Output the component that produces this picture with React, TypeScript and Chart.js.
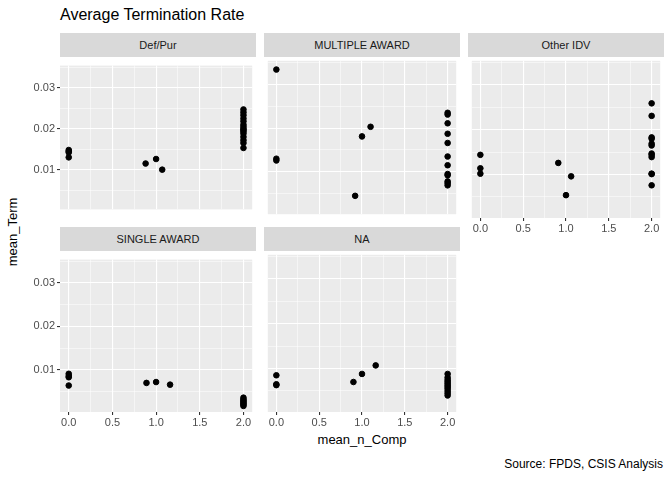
import { useEffect, useRef } from "react"
import { Chart, registerables } from "chart.js"

Chart.register(...registerables)

// facet panels
const panelNames = ["Def/Pur", "MULTIPLE AWARD", "Other IDV", "SINGLE AWARD", "NA"]

const defPurX = [0, 0, 0, 0, 0.88, 1.0, 1.07, 2, 2, 2, 2, 2, 2, 2, 2, 2, 2, 2, 2, 2, 2, 2]
const defPurY = [0.0148, 0.0145, 0.0142, 0.013, 0.0115, 0.0126, 0.01, 0.0247, 0.024, 0.0233, 0.0225, 0.0218, 0.021, 0.0205, 0.02, 0.0197, 0.0193, 0.0188, 0.018, 0.0172, 0.0165, 0.0153]

const multipleX = [0, 0, 0, 0.92, 1.0, 1.1, 2, 2, 2, 2, 2, 2, 2, 2, 2, 2, 2, 2]
const multipleY = [0.0334, 0.013, 0.0126, 0.0045, 0.0181, 0.0203, 0.0235, 0.0231, 0.0211, 0.0187, 0.0166, 0.0135, 0.0115, 0.0095, 0.0092, 0.0078, 0.0074, 0.0069]

const otherX = [0, 0, 0, 0.91, 1.06, 1.0, 2, 2, 2, 2, 2, 2, 2, 2, 2, 2, 2, 2]
const otherY = [0.0144, 0.0114, 0.0102, 0.0126, 0.0096, 0.0054, 0.0259, 0.0231, 0.0183, 0.018, 0.0169, 0.0165, 0.0147, 0.0144, 0.0139, 0.0102, 0.0101, 0.0076]

const singleX = [0, 0, 0, 0, 0.89, 1.0, 1.16, 2, 2, 2, 2, 2, 2, 2]
const singleY = [0.0091, 0.0086, 0.0083, 0.0064, 0.007, 0.0072, 0.0066, 0.0036, 0.0032, 0.0029, 0.0026, 0.0023, 0.002, 0.0017]

const naX = [0, 0, 0, 0.9, 1.0, 1.16, 2, 2, 2, 2, 2, 2, 2, 2, 2, 2, 2]
const naY = [0.0085, 0.0065, 0.0063, 0.007, 0.0088, 0.0107, 0.0088, 0.008, 0.0075, 0.0071, 0.0067, 0.0063, 0.0059, 0.0055, 0.005, 0.0045, 0.004]

const seriesX = [defPurX, multipleX, otherX, singleX, naX]
const seriesY = [defPurY, multipleY, otherY, singleY, naY]

const yTicks = [0.01, 0.02, 0.03]
const xTicks = [0, 0.5, 1, 1.5, 2]

const FONT = "'Liberation Sans', Arial, sans-serif"
const PLOT_W = 196
const PLOT_H = 161
const Y_AXIS_W = 32
const X_AXIS_H = 18

// panel layout: left, top of plot area, show y ticks, show x ticks
const layout = [
  { left: 60, top: 57, yAxis: true, xAxis: false },
  { left: 264, top: 57, yAxis: false, xAxis: false },
  { left: 468, top: 57, yAxis: false, xAxis: true },
  { left: 60, top: 251, yAxis: true, xAxis: true },
  { left: 264, top: 251, yAxis: false, xAxis: true },
]

const near = (v: number, list: number[]) => list.some((t) => Math.abs(t - v) < 1e-6)

function Panel({ index }: { index: number }) {
  const chartRef = useRef<HTMLCanvasElement>(null)
  const chartInstance = useRef<Chart | null>(null)
  const cfg = layout[index]

  useEffect(() => {
    if (!chartRef.current) return
    if (chartInstance.current) chartInstance.current.destroy()
    const ctx = chartRef.current.getContext("2d")
    if (!ctx) return
    const points = seriesX[index].map((x, i) => ({ x, y: seriesY[index][i] }))
    chartInstance.current = new Chart(ctx, {
      type: "scatter",
      data: {
        datasets: [
          {
            data: points,
            backgroundColor: "#000000",
            borderColor: "#000000",
            pointRadius: 2.8,
            pointHoverRadius: 2.8,
          },
        ],
      },
      options: {
        animation: false,
        responsive: false,
        maintainAspectRatio: false,
        layout: { padding: 0 },
        plugins: { legend: { display: false }, tooltip: { enabled: false } },
        scales: {
          x: {
            type: "linear",
            min: -0.1,
            max: 2.1,
            border: { display: false },
            afterBuildTicks: (scale: any) => {
              const t = []
              for (let v = 0; v <= 2.0001; v += 0.25) t.push({ value: v })
              scale.ticks = t
            },
            afterFit: (scale: any) => {
              scale.height = cfg.xAxis ? X_AXIS_H : 0
            },
            grid: {
              color: "#ffffff",
              lineWidth: (c: any) => (near(c.tick?.value, xTicks) ? 1.1 : 0.5),
              drawTicks: cfg.xAxis,
              tickLength: 3,
              tickColor: (c: any) => (near(c.tick?.value, xTicks) ? "#333333" : "rgba(0,0,0,0)"),
            },
            ticks: {
              display: cfg.xAxis,
              color: "#4d4d4d",
              font: { family: FONT, size: 11 },
              padding: 1,
              maxRotation: 0,
              autoSkip: false,
              callback: (v: any) => (near(Number(v), xTicks) ? Number(v).toFixed(1) : ""),
            },
          },
          y: {
            type: "linear",
            min: 0.0003,
            max: 0.0354,
            border: { display: false },
            afterBuildTicks: (scale: any) => {
              scale.ticks = [0.005, 0.01, 0.015, 0.02, 0.025, 0.03, 0.035].map((value) => ({ value }))
            },
            afterFit: (scale: any) => {
              scale.width = cfg.yAxis ? Y_AXIS_W : 0
            },
            grid: {
              color: "#ffffff",
              lineWidth: (c: any) => (near(c.tick?.value, yTicks) ? 1.1 : 0.5),
              drawTicks: cfg.yAxis,
              tickLength: 3,
              tickColor: (c: any) => (near(c.tick?.value, yTicks) ? "#333333" : "rgba(0,0,0,0)"),
            },
            ticks: {
              display: cfg.yAxis,
              color: "#4d4d4d",
              font: { family: FONT, size: 11 },
              padding: 2,
              autoSkip: false,
              callback: (v: any) => (near(Number(v), yTicks) ? Number(v).toFixed(2) : ""),
            },
          },
        },
      },
      plugins: [
        {
          id: "panelBg",
          beforeDraw: (chart: any) => {
            const { ctx: c, chartArea: a } = chart
            c.save()
            c.fillStyle = "#ebebeb"
            c.fillRect(a.left, a.top, a.right - a.left, a.bottom - a.top)
            c.restore()
          },
        },
      ],
    })
    return () => {
      if (chartInstance.current) chartInstance.current.destroy()
      chartInstance.current = null
    }
  }, [index])

  const w = PLOT_W + (cfg.yAxis ? Y_AXIS_W : 0)
  const h = PLOT_H + (cfg.xAxis ? X_AXIS_H : 0)
  return (
    <>
      <div
        style={{
          position: "absolute",
          left: cfg.left,
          top: cfg.top - 24,
          width: PLOT_W,
          height: 24,
          background: "#d9d9d9",
          color: "#1a1a1a",
          fontSize: 11,
          lineHeight: "24px",
          textAlign: "center",
          fontFamily: FONT,
        }}
      >
        {panelNames[index]}
      </div>
      <canvas
        ref={chartRef}
        width={w}
        height={h}
        style={{
          position: "absolute",
          left: cfg.left - (cfg.yAxis ? Y_AXIS_W : 0),
          top: cfg.top,
          width: w,
          height: h,
        }}
      />
    </>
  )
}

export default function App() {
  return (
    <div
      style={{
        position: "fixed",
        left: 0,
        top: 0,
        width: 672,
        height: 480,
        background: "#ffffff",
        fontFamily: FONT,
        fontWeight: "normal",
        overflow: "hidden",
      }}
    >
      <div style={{ position: "absolute", left: 60, top: 6, fontSize: 16, color: "#000" }}>
        Average Termination Rate
      </div>
      {panelNames.map((_, i) => (
        <Panel key={i} index={i} />
      ))}
      <div
        style={{
          position: "absolute",
          left: 12,
          top: 232,
          fontSize: 13,
          color: "#000",
          transform: "translate(-50%, -50%) rotate(-90deg)",
          whiteSpace: "nowrap",
        }}
      >
        mean_Term
      </div>
      <div
        style={{
          position: "absolute",
          left: 362,
          top: 432,
          fontSize: 13,
          color: "#000",
          transform: "translateX(-50%)",
          whiteSpace: "nowrap",
        }}
      >
        mean_n_Comp
      </div>
      <div style={{ position: "absolute", right: 9, top: 457, fontSize: 12, color: "#000" }}>
        Source: FPDS, CSIS Analysis
      </div>
    </div>
  )
}
